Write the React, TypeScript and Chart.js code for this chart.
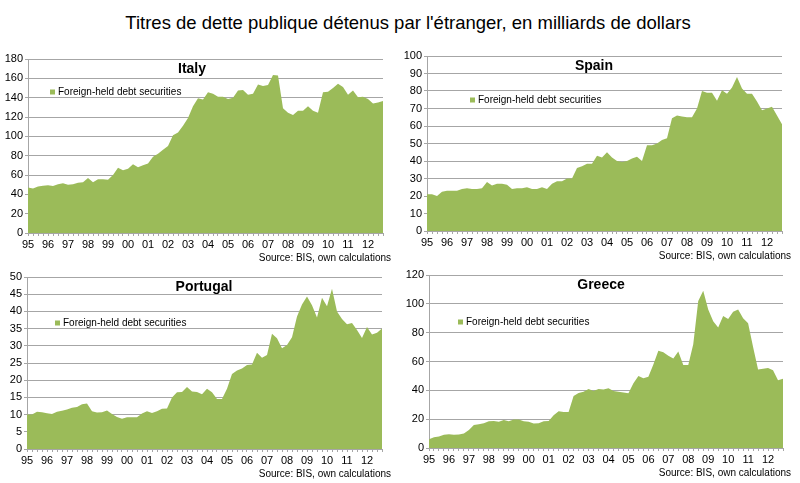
import { useEffect, useRef } from "react"
import { Chart, registerables } from "chart.js"

Chart.register(...registerables)

// Year tick labels, one category per quarter
const years = ["95", "96", "97", "98", "99", "00", "01", "02", "03", "04", "05", "06", "07", "08", "09", "10", "11", "12"]
const quarters = ["Q1", "Q2", "Q3", "Q4"]
const categories = years.flatMap((y) => quarters.map((q) => `${y} ${q}`))

const seriesLabel = "Foreign-held debt securities"
const sourceText = "Source: BIS, own calculations"

const italy = [
  47, 46, 48, 49, 49.5, 48.5, 50.5, 51.5, 50, 50.5, 52, 52.5, 57, 52.5, 55.5, 55.5, 55, 60, 67.5, 65, 66.5, 71, 68, 70,
  72, 79, 82, 86, 90, 101, 104, 111, 119, 131, 139.5, 138, 145.5, 144, 141, 141, 138.5, 140, 147.5, 148, 143, 144, 153.5, 152,
  153, 163.5, 163, 129, 124.5, 122, 126.5, 126.5, 131, 126.5, 124.5, 145.5, 146, 150, 154.5, 151, 143, 147.5, 140.5, 141,
  138.5, 134, 135, 136.5,
]
const spain = [
  21, 21, 20, 22.5, 23, 23, 23, 24, 24.5, 24, 24, 24.5, 28, 26, 27, 27, 26.5, 24, 24.5, 24.5, 25, 24, 24, 25,
  24, 27, 28.5, 28.5, 30, 30, 36, 37, 38.5, 38.5, 43, 42, 45, 42, 40, 39.5, 40, 41.5, 42.5, 40, 49, 49, 50, 52,
  53, 64.5, 66, 65.5, 65, 65, 70, 80, 79, 79, 74.5, 80.5, 78.5, 82, 88, 81.5, 78.5, 78.5, 74, 69, 70, 71, 66, 61,
]
const portugal = [
  10, 10, 10.8, 10.7, 10.4, 10.2, 10.8, 11.1, 11.5, 12, 12.2, 13, 13.2, 11, 10.6, 10.7, 11.2, 10.2, 9.3, 8.8, 9.2, 9.2, 9.2, 10.3,
  11, 10.5, 11, 11.7, 11.8, 15, 16.5, 16.6, 18, 16.7, 16.6, 15.9, 17.5, 16.5, 14.5, 14.5, 17.5, 21.8, 22.8, 23.4, 24.4, 24.6, 28, 26.5,
  27.3, 33.5, 32.2, 29.3, 30.2, 32.5, 38.5, 42, 44.3, 41.8, 38.2, 44, 41.5, 46.6, 40, 37.8, 36.3, 36.6, 34.6, 32.3, 35.5, 33.3, 33.8, 35,
]
const greece = [
  6, 7.5, 8, 9.2, 9.6, 9.2, 9.3, 10, 12.5, 16, 16.5, 17.2, 18.5, 18.8, 18.2, 19.5, 18.5, 19.8, 19.8, 18.5, 18.2, 17, 17.2, 18.5,
  18.8, 22.8, 25.5, 25, 25, 36, 38.2, 39, 41, 39.5, 41, 40.5, 41.5, 39.5, 39, 38.5, 38, 45, 50, 48.3, 49.5, 58, 67.5, 66.5,
  64, 62, 67, 57.5, 57.5, 72, 102, 109, 96, 88, 83.5, 91.5, 89.5, 94.5, 96, 90, 86.5, 70, 54.5, 55, 55.5, 54, 47, 48,
]

const GREEN = "#9bbb59"
const GRID = "#a6a6a6"
const FONT = "'Liberation Sans', Arial, sans-serif"

interface PanelProps {
  country: string
  values: number[]
  max: number
  step: number
  // canvas placement on the page
  x: number
  y: number
  w: number
  h: number
  // plot area on the page
  plotLeft: number
  plotRight: number
  plotTop: number
  plotBottom: number
  titleX: number
  legendX: number
  legendY: number
}

function Panel(p: PanelProps) {
  const chartRef = useRef<HTMLCanvasElement>(null)
  const chartInstance = useRef<Chart | null>(null)

  useEffect(() => {
    if (!chartRef.current) return
    if (chartInstance.current) chartInstance.current.destroy()
    const ctx = chartRef.current.getContext("2d")
    if (!ctx) return

    const xAxisHeight = 19
    const overlay = {
      id: "overlay",
      afterDraw(chart: Chart) {
        const c = chart.ctx
        const area = chart.chartArea
        c.save()
        c.fillStyle = "#000"
        // panel title
        c.font = `bold 14px ${FONT}`
        c.textAlign = "center"
        c.textBaseline = "middle"
        c.fillText(p.country, p.titleX - p.x, area.top + 10)
        // legend
        const lx = p.legendX - p.x
        const ly = p.legendY - p.y
        c.fillStyle = GREEN
        c.fillRect(lx, ly - 2.5, 5, 5)
        c.fillStyle = "#000"
        c.font = `10px ${FONT}`
        c.textAlign = "left"
        c.fillText(seriesLabel, lx + 8, ly)
        // source
        c.textAlign = "right"
        c.fillText(sourceText, p.w - 9, area.bottom + 25)
        c.restore()
      },
    }

    chartInstance.current = new Chart(ctx, {
      type: "line",
      data: {
        labels: categories,
        datasets: [
          {
            label: seriesLabel,
            data: p.values,
            backgroundColor: GREEN,
            borderColor: GREEN,
            borderWidth: 0,
            pointRadius: 0,
            tension: 0,
            fill: "origin",
          },
        ],
      },
      options: {
        animation: false,
        responsive: false,
        maintainAspectRatio: false,
        layout: {
          padding: {
            left: 0,
            right: p.x + p.w - p.plotRight,
            top: p.plotTop - p.y,
            bottom: p.y + p.h - p.plotBottom - xAxisHeight,
          },
        },
        plugins: {
          legend: { display: false },
          tooltip: { enabled: false },
        },
        scales: {
          x: {
            offset: false,
            grid: { display: true, drawOnChartArea: false, tickLength: 3, color: GRID },
            border: { color: GRID },
            ticks: {
              autoSkip: false,
              maxRotation: 0,
              minRotation: 0,
              padding: 2,
              color: "#000",
              font: { family: FONT, size: 11 },
              callback: (_v: any, i: number) => (i % 4 === 0 ? years[i / 4] : ""),
            },
            afterFit: (s: any) => {
              s.height = xAxisHeight
            },
          },
          y: {
            min: 0,
            max: p.max,
            ticks: { stepSize: p.step, color: "#000", font: { family: FONT, size: 11 }, padding: 2 },
            grid: { color: GRID, tickLength: 3 },
            border: { color: GRID },
            afterFit: (s: any) => {
              s.width = p.plotLeft - p.x
            },
          },
        },
      },
      plugins: [overlay],
    })

    return () => {
      if (chartInstance.current) {
        chartInstance.current.destroy()
        chartInstance.current = null
      }
    }
  }, [p])

  return (
    <canvas
      ref={chartRef}
      width={p.w}
      height={p.h}
      style={{ position: "absolute", left: p.x, top: p.y, width: p.w, height: p.h }}
    />
  )
}

const panels: PanelProps[] = [
  { country: "Italy", values: italy, max: 180, step: 20, x: 0, y: 40, w: 400, h: 225, plotLeft: 28, plotRight: 383, plotTop: 59, plotBottom: 233, titleX: 192, legendX: 50, legendY: 92 },
  { country: "Spain", values: spain, max: 100, step: 10, x: 400, y: 40, w: 400, h: 225, plotLeft: 427, plotRight: 782, plotTop: 56, plotBottom: 231, titleX: 594, legendX: 470, legendY: 100 },
  { country: "Portugal", values: portugal, max: 50, step: 5, x: 0, y: 265, w: 400, h: 218, plotLeft: 27, plotRight: 382, plotTop: 277, plotBottom: 449, titleX: 204, legendX: 55, legendY: 323 },
  { country: "Greece", values: greece, max: 120, step: 20, x: 400, y: 265, w: 400, h: 218, plotLeft: 429, plotRight: 783, plotTop: 275, plotBottom: 448, titleX: 601, legendX: 458, legendY: 322 },
]

export default function App() {
  return (
    <div style={{ position: "fixed", left: 0, top: 0, width: 800, height: 483, background: "#fff", overflow: "hidden" }}>
      <div
        style={{
          position: "absolute",
          left: 8,
          top: 10,
          width: 800,
          textAlign: "center",
          fontFamily: FONT,
          fontSize: 18.5,
          lineHeight: "26px",
          color: "#000",
        }}
      >
        Titres de dette publique détenus par l'étranger, en milliards de dollars
      </div>
      {panels.map((p) => (
        <Panel key={p.country} {...p} />
      ))}
    </div>
  )
}
